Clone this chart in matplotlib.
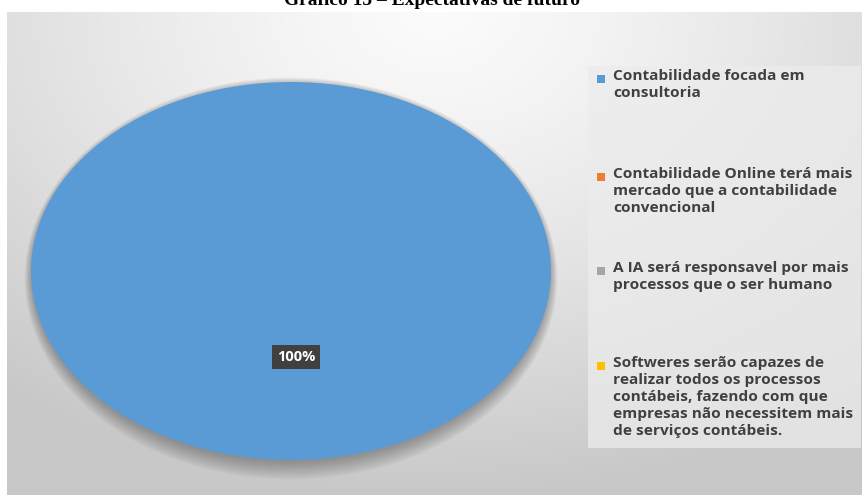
import matplotlib.pyplot as plt
import numpy as np
from matplotlib.patches import Rectangle, Ellipse

# answers and counts
categorias = [
    "Contabilidade focada em\nconsultoria",
    "Contabilidade Online terá mais\nmercado que a contabilidade\nconvencional",
    "A IA será responsavel por mais\nprocessos que o ser humano",
    "Softweres serão capazes de\nrealizar todos os processos\ncontábeis, fazendo com que\nempresas não necessitem mais\nde serviços contábeis.",
]
valores = [100, 0, 0, 0]
cores = ["#5b9bd5", "#ed7d31", "#a5a5a5", "#ffc000"]
titulo = "Gráfico 15 – Expectativas de futuro"

W, H = 864, 496
fig = plt.figure(figsize=(W / 100, H / 100), dpi=100)

# grey radial background of the chart area
bg = fig.add_axes([7 / W, 1 / H, (862 - 7) / W, (495 - 12) / H])
yy, xx = np.mgrid[0:1:300j, 0:1:500j]
d = np.sqrt(((xx - 0.5) / 0.8) ** 2 + (yy / 1.0) ** 2)
shade = 0.985 - 0.2 * np.clip(d, 0, 1.0) ** 1.3
bg.imshow(np.dstack([shade] * 3), aspect="auto", extent=[0, 1, 1, 0], interpolation="bilinear")
bg.set_axis_off()

fig.text(0.5, (H - 5) / H, titulo, ha="center", va="baseline", fontsize=14,
         fontweight="bold", family="Liberation Serif")

# legend panel
fig.patches.append(Rectangle((588 / W, (H - 448) / H), (861 - 588) / W, (448 - 66) / H,
                             transform=fig.transFigure, facecolor="#ececec",
                             edgecolor="none", alpha=0.75, zorder=1))
linhas_y = [78, 176, 270, 365]
for cat, cor, y in zip(categorias, cores, linhas_y):
    fig.patches.append(Rectangle((597 / W, (H - y - 5) / H), 8 / W, 8 / H,
                                 transform=fig.transFigure, facecolor=cor,
                                 edgecolor="none", zorder=2))
    fig.text(613 / W, (H - y + 9) / H, cat, ha="left", va="top", fontsize=11.1,
             fontweight="bold", family="Open Sans", color="#404040",
             linespacing=1.27, zorder=3)

# pie
ax = fig.add_axes([31 / W, (H - 460) / H, 520 / W, 378 / H])
# soft shadow under the pie
for k in range(10):
    ax.add_patch(Ellipse((0, -0.012 - 0.003 * k), 1.995 + 0.006 * k, 2 + 0.014 * k,
                         facecolor="black", edgecolor="none", alpha=0.03,
                         zorder=0, clip_on=False))
ax.pie(valores, colors=cores, startangle=90, counterclock=False, radius=1,
       wedgeprops=dict(linewidth=0, zorder=2))
ax.set_aspect("auto")
ax.set_xlim(-1, 1)
ax.set_ylim(-1, 1)
ax.set_axis_off()

total = sum(valores)
ax.text(0.02, -0.455, f"{valores[0] / total * 100:.0f}%", ha="center", va="center",
        fontsize=10.5, fontweight="bold", family="Open Sans", color="white", zorder=5,
        bbox=dict(boxstyle="square,pad=0.35", facecolor="#404040", edgecolor="none"))

fig.savefig("out.png", dpi=100)
